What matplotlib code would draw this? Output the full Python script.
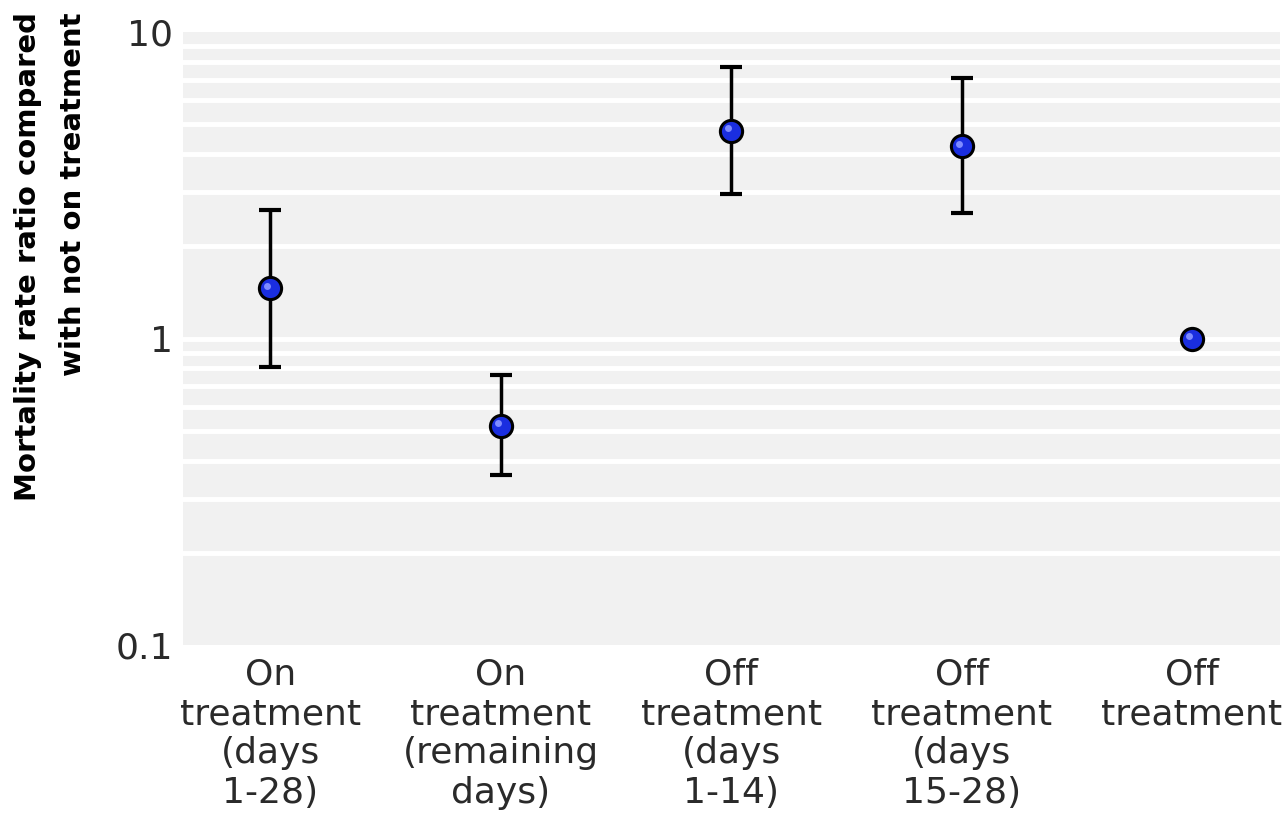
import matplotlib.pyplot as plt
import matplotlib.transforms as mtransforms
import numpy as np

# categories and values
labels = ['On\ntreatment\n(days\n1-28)', 'On\ntreatment\n(remaining\ndays)',
          'Off\ntreatment\n(days\n1-14)', 'Off\ntreatment\n(days\n15-28)', 'Off\ntreatment']
ratio = [1.46, 0.52, 4.75, 4.24, 1.0]
lower = [0.81, 0.36, 2.96, 2.58, 1.0]
upper = [2.62, 0.76, 7.69, 7.10, 1.0]

x = np.arange(len(labels))
err = np.array([np.array(ratio) - np.array(lower), np.array(upper) - np.array(ratio)])

fig = plt.figure(figsize=(12.86, 8.25), dpi=100)
ax = fig.add_axes([0.142, 0.218, 0.853, 0.743])
ax.set_facecolor('#f1f1f1')

ax.set_yscale('log')
ax.set_ylim(0.1, 10)
ax.set_xlim(-0.38, 4.38)

# white lines at the minor ticks and at 1
grid_vals = [v * d for d in (0.1, 1) for v in range(2, 10)] + [1]
for g in grid_vals:
    ax.axhline(g, color='white', lw=3.5, zorder=1)

# error bars (the last point has none)
for i in range(len(x)):
    if upper[i] != lower[i]:
        ax.errorbar(x[i], ratio[i], yerr=err[:, i:i + 1], fmt='none', ecolor='black',
                    elinewidth=2.5, capsize=8, capthick=3, zorder=3)
ax.plot(x, ratio, 'o', ls='none', ms=16, mfc='#1a2ee0', mec='black', mew=2.2, zorder=4)
# small shine on the balls
shift = mtransforms.ScaledTranslation(-2 / 72, 2 / 72, fig.dpi_scale_trans)
ax.plot(x, ratio, 'o', ls='none', ms=5, mfc='#7f8cff', mec='none', zorder=5,
        transform=ax.transData + shift)

for s in ax.spines.values():
    s.set_visible(False)
ax.set_yticks([0.1, 1, 10])
ax.set_yticklabels(['0.1', '1', '10'])
ax.yaxis.set_minor_locator(plt.NullLocator())
ax.set_xticks(x)
ax.set_xticklabels(labels, linespacing=1.2)
ax.tick_params(length=0, labelsize=26, labelcolor='#2a2a2a', pad=9)
ax.tick_params(axis='y', pad=7)

fig.text(0.011, 0.985, 'Mortality rate ratio compared\nwith not on treatment',
         rotation=90, ha='left', va='top', multialignment='right',
         fontsize=21, fontweight='bold', family=['DejaVu Sans'], linespacing=1.75)

fig.savefig('out.png', dpi=100, facecolor='white')
